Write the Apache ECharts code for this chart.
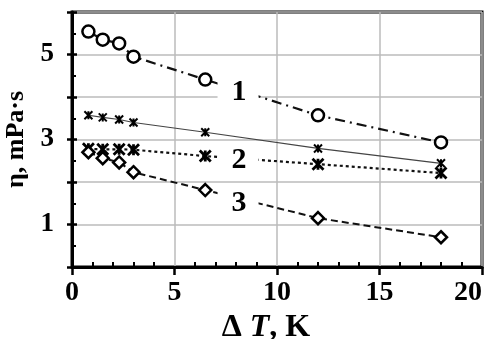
<!DOCTYPE html>
<html>
<head>
<meta charset="utf-8">
<script src="https://cdn.jsdelivr.net/npm/echarts@6/dist/echarts.min.js"></script>
<style>html,body{margin:0;padding:0;background:#fff}#c{width:489px;height:339px}</style>
</head>
<body>
<div id="c"></div>
<script>
var xVals = [0.8, 1.5, 2.3, 3.0, 6.5, 12, 18];
var s1 = [5.54, 5.35, 5.26, 4.95, 4.41, 3.57, 2.93];
var s1b = [3.57, 3.52, 3.47, 3.40, 3.17, 2.79, 2.44];
var s2 = [2.78, 2.77, 2.77, 2.76, 2.61, 2.42, 2.21];
var s3 = [2.70, 2.56, 2.46, 2.23, 1.81, 1.15, 0.70];
var yTickLabels = [1, 3, 5];
var labelTexts = ['1', '2', '3'];
var labelX = [8.1, 8.1, 8.1];
var labelY = [4.11, 2.51, 1.50];

function pairs(ys) { return xVals.map(function (x, i) { return [x, ys[i]]; }); }
var FONT = 'Liberation Serif';
var ASTER = 'path://M0,0L10,10M10,0L0,10M5,0L5,10';
var labelPads = [[2, 12, 0, 14], [0, 12, 0, 14], [0, 12, 12, 14]];

var chart = echarts.init(document.getElementById('c'));
chart.setOption({
  animation: false,
  backgroundColor: '#fff',
  grid: { left: 72, right: 7, top: 12, bottom: 72, containLabel: false, outerBoundsMode: 'none',
    show: true, borderColor: '#000', borderWidth: 3, backgroundColor: 'transparent' },
  xAxis: [{
    type: 'value', min: 0, max: 20, interval: 5,
    axisLine: { show: true, lineStyle: { color: '#000', width: 3 } },
    axisTick: { show: true, inside: false, length: 8, lineStyle: { color: '#000', width: 2.5 } },
    minorTick: { show: false },
    splitLine: { show: true, lineStyle: { color: '#bbb', width: 1.5 } },
    axisLabel: { margin: 12, color: '#000', fontFamily: FONT, fontWeight: 'bold', fontSize: 28, alignMaxLabel: 'right' },
    name: '{a|\u0394 }{b|T}{a|, K}', nameLocation: 'middle', nameGap: 42,
    nameTextStyle: { padding: [0, 22, 0, 0], rich: {
      a: { fontFamily: FONT, fontWeight: 'bold', fontSize: 32, color: '#000' },
      b: { fontFamily: FONT, fontWeight: 'bold', fontStyle: 'italic', fontSize: 32, color: '#000' }
    } }
  }, {
    type: 'value', min: 0, max: 20, interval: 5, position: 'bottom',
    axisLine: { show: false },
    axisTick: { show: false, inside: true },
    minorTick: { show: true, splitNumber: 5, length: 5, lineStyle: { color: '#000', width: 2 } },
    splitLine: { show: false }, axisLabel: { show: false }
  }],
  yAxis: [{
    type: 'value', min: 0, max: 6, interval: 1,
    axisLine: { show: true, lineStyle: { color: '#000', width: 3 } },
    axisTick: { show: true, inside: false, length: 5, lineStyle: { color: '#000', width: 2.5 } },
    minorTick: { show: false },
    splitLine: { show: true, lineStyle: { color: '#bbb', width: 1.5 } },
    axisLabel: {
      margin: 18, color: '#000', fontFamily: FONT, fontWeight: 'bold', fontSize: 27,
      formatter: function (v) { return yTickLabels.indexOf(v) >= 0 ? String(v) : ''; }
    },
    name: '\u03b7, mPa\u00b7s', nameLocation: 'middle', nameGap: 36,
    nameTextStyle: { fontFamily: FONT, fontWeight: 'bold', fontSize: 26, color: '#000' }
  }, {
    type: 'value', min: 0, max: 6, interval: 1, position: 'left',
    axisLine: { show: false },
    axisTick: { show: true, inside: true, length: 5, lineStyle: { color: '#000', width: 2.5 } },
    minorTick: { show: true, splitNumber: 2, length: 4, lineStyle: { color: '#000', width: 2 } },
    splitLine: { show: false }, axisLabel: { show: false }
  }],
  series: [{
    type: 'line', data: pairs(s1), z: 3,
    symbol: 'circle', symbolSize: 12,
    itemStyle: { color: '#fff', borderColor: '#000', borderWidth: 2.5 },
    lineStyle: { color: '#111', width: 2.2, type: [10, 5, 2, 5] }
  }, {
    type: 'line', data: pairs(s1b), z: 3,
    symbol: ASTER, symbolSize: 8,
    itemStyle: { color: 'none', borderColor: '#000', borderWidth: 2 },
    lineStyle: { color: '#444', width: 1.2, type: 'solid' }
  }, {
    type: 'line', data: pairs(s2), z: 3,
    symbol: ASTER, symbolSize: 11,
    itemStyle: { color: 'none', borderColor: '#000', borderWidth: 2.8 },
    lineStyle: { color: '#111', width: 2.2, type: [3, 3] }
  }, {
    type: 'line', data: pairs(s3), z: 3,
    symbol: 'diamond', symbolSize: 12,
    itemStyle: { color: '#fff', borderColor: '#000', borderWidth: 2.5 },
    lineStyle: { color: '#111', width: 2, type: [7, 4] }
  }, {
    type: 'scatter', z: 10, symbolSize: 1,
    itemStyle: { color: 'rgba(0,0,0,0)', opacity: 1 },
    data: labelTexts.map(function (t, i) {
      return { name: t, value: [labelX[i], labelY[i]], label: { padding: labelPads[i] } };
    }),
    label: {
      show: true, position: 'inside', formatter: '{b}',
      fontFamily: FONT, fontWeight: 'bold', fontSize: 30, color: '#000', opacity: 1,
      backgroundColor: '#fff', lineHeight: 26
    }
  }]
});
</script>
</body>
</html>
